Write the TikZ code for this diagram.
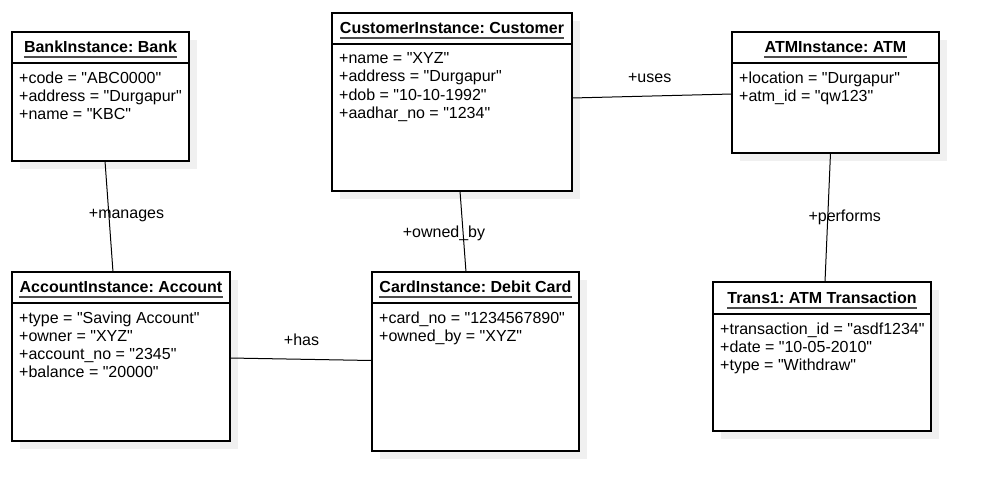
\documentclass[tikz,border=0pt]{standalone}
\usepackage{fontspec}
\setmainfont{Liberation Sans}[Ligatures=TeXOff]
\usetikzlibrary{shadows}
\frenchspacing

\begin{document}
\begin{tikzpicture}[x=1pt, y=-1pt, font=\fontsize{16}{18.2}\selectfont,
    obj/.style={draw, line width=1.4pt, fill=white, anchor=north west, inner sep=0pt, outer sep=0pt,
                drop shadow={shadow xshift=8pt, shadow yshift=-8pt, fill=black!6, opacity=1}},
    obj title/.style={font=\fontsize{16}{18.2}\selectfont\bfseries, anchor=base, inner sep=0pt,
                append after command={([yshift=-5pt]\tikzlastnode.base west) edge[line width=1.4pt, black!70] ([yshift=-5pt]\tikzlastnode.base east)}},
    obj attr/.style={anchor=north west, align=left, inner sep=0pt},
    divider/.style={line width=1.4pt}]

  \useasboundingbox (0,0) rectangle (988,501);

  \node[obj, minimum width=177pt, minimum height=129pt] (bank) at (12,32) {};
  \node[obj title] (bank title) at ([yshift=-20pt]bank.north) {BankInstance: Bank};
  \draw[divider] ([yshift=-31pt]bank.north west) -- ([yshift=-31pt]bank.north east);
  \node[obj attr] (bank attrs) at ([xshift=7pt, yshift=-39.5pt]bank.north west)
       {+code = "ABC0000"\\+address = "Durgapur"\\+name = "KBC"};

  \node[obj, minimum width=240pt, minimum height=178pt] (cust) at (332,13) {};
  \node[obj title] (cust title) at ([yshift=-20pt]cust.north) {CustomerInstance: Customer};
  \draw[divider] ([yshift=-31pt]cust.north west) -- ([yshift=-31pt]cust.north east);
  \node[obj attr] (cust attrs) at ([xshift=7pt, yshift=-39.5pt]cust.north west)
       {+name = "XYZ"\\+address = "Durgapur"\\+dob = "10-10-1992"\\+aadhar\_no = "1234"};

  \node[obj, minimum width=207pt, minimum height=121pt] (atm) at (732,32) {};
  \node[obj title] (atm title) at ([yshift=-20pt]atm.north) {ATMInstance: ATM};
  \draw[divider] ([yshift=-31pt]atm.north west) -- ([yshift=-31pt]atm.north east);
  \node[obj attr] (atm attrs) at ([xshift=7pt, yshift=-39.5pt]atm.north west)
       {+location = "Durgapur"\\+atm\_id = "qw123"};

  \node[obj, minimum width=218pt, minimum height=169pt] (acc) at (12,272) {};
  \node[obj title] (acc title) at ([yshift=-20pt]acc.north) {AccountInstance: Account};
  \draw[divider] ([yshift=-31pt]acc.north west) -- ([yshift=-31pt]acc.north east);
  \node[obj attr] (acc attrs) at ([xshift=7pt, yshift=-39.5pt]acc.north west)
       {+type = "Saving Account"\\+owner = "XYZ"\\+account\_no = "2345"\\+balance = "20000"};

  \node[obj, minimum width=207pt, minimum height=179pt] (card) at (372,272) {};
  \node[obj title] (card title) at ([yshift=-20pt]card.north) {CardInstance: Debit Card};
  \draw[divider] ([yshift=-31pt]card.north west) -- ([yshift=-31pt]card.north east);
  \node[obj attr] (card attrs) at ([xshift=7pt, yshift=-39.5pt]card.north west)
       {+card\_no = "1234567890"\\+owned\_by = "XYZ"};

  \node[obj, minimum width=218pt, minimum height=149pt] (trans) at (713,282) {};
  \node[obj title] (trans title) at ([yshift=-21pt]trans.north) {Trans1: ATM Transaction};
  \draw[divider] ([yshift=-32pt]trans.north west) -- ([yshift=-32pt]trans.north east);
  \node[obj attr] (trans attrs) at ([xshift=7pt, yshift=-40.5pt]trans.north west)
       {+transaction\_id = "asdf1234"\\+date = "10-05-2010"\\+type = "Withdraw"};

  % links
  \path[every node/.style={anchor=base}, every edge/.style={draw, line width=1pt}]
    ([xshift=4.5pt]bank.south) edge node [xshift=17.5pt, yshift=-1.5pt] {+manages} ([xshift=-8pt]acc.north)
    ([xshift=8pt]cust.south) edge node [xshift=-19pt, yshift=-5.5pt] {+owned\_by} ([xshift=-9.5pt]card.north)
    ([yshift=4pt]cust.east) edge node [xshift=-2.3pt, yshift=14pt] {+uses} ([yshift=-1.5pt]atm.west)
    ([yshift=-1.5pt]acc.east) edge node [xshift=0.5pt, yshift=14pt] {+has} ([yshift=1pt]card.west)
    ([xshift=-5pt]atm.south) edge node [xshift=17pt, yshift=-4pt] {+performs} ([xshift=3pt]trans.north);

\end{tikzpicture}
\end{document}
